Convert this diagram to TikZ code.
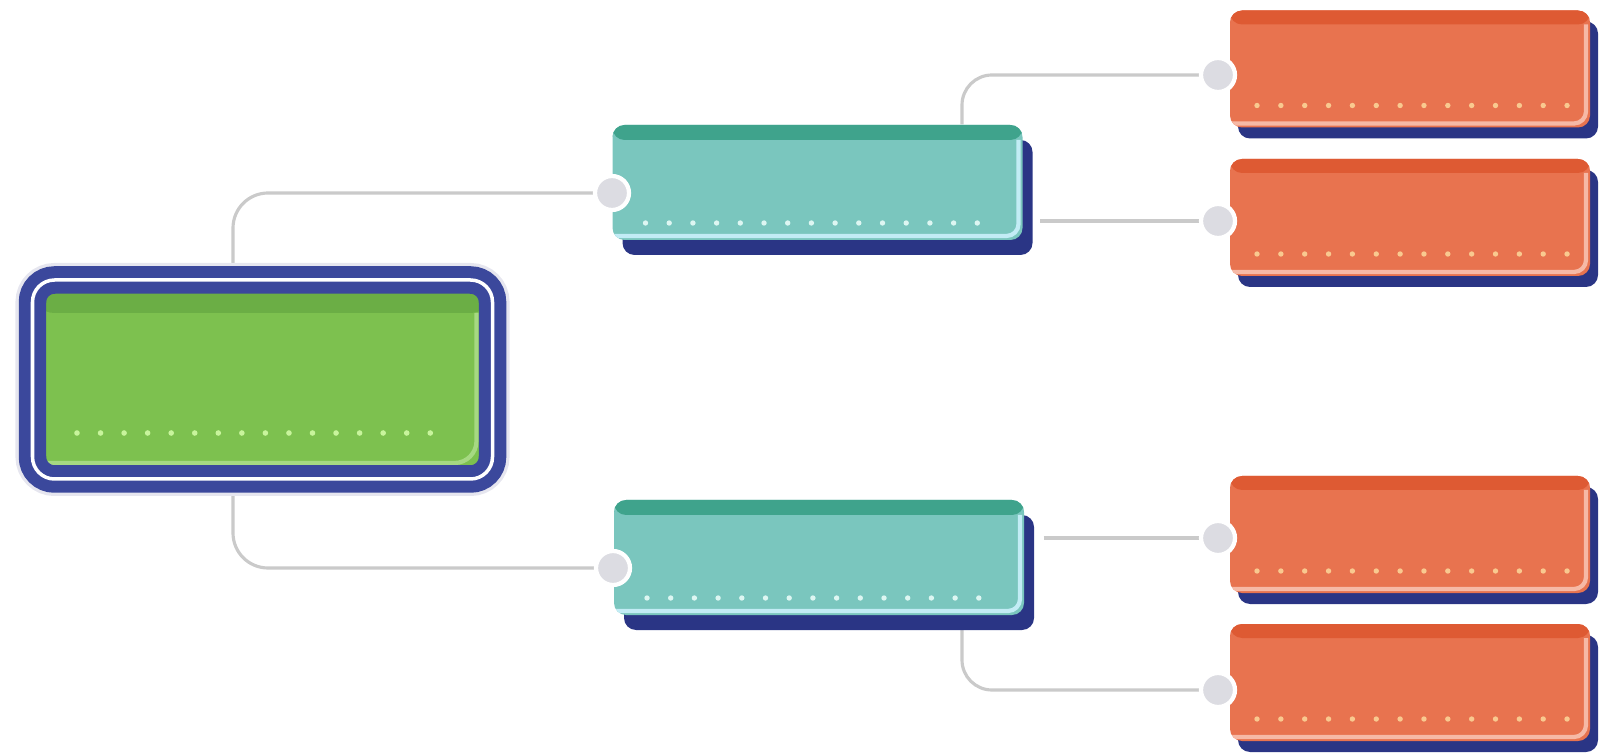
\documentclass[tikz,border=0pt]{standalone}
\usetikzlibrary{shadows,backgrounds}

\definecolor{navy}{HTML}{2A3585}
\definecolor{framenavy}{HTML}{3B489C}
\definecolor{halo}{HTML}{E6E6EF}
\definecolor{grfill}{HTML}{7DC14F}
\definecolor{grtop}{HTML}{6BAE45}
\definecolor{grlight}{HTML}{A6D982}
\definecolor{grdot}{HTML}{C8F49C}
\definecolor{tefill}{HTML}{7AC6BE}
\definecolor{tetop}{HTML}{3FA38C}
\definecolor{telight}{HTML}{C2ECF5}
\definecolor{tedot}{HTML}{DDF6F2}
\definecolor{orfill}{HTML}{E8734F}
\definecolor{ortop}{HTML}{DE5A33}
\definecolor{orlight}{HTML}{F6B9A6}
\definecolor{ordot}{HTML}{F9C98F}
\definecolor{linkgray}{HTML}{CACACA}
\definecolor{portgray}{HTML}{DCDCE2}

\tikzset{
	box/.style={rectangle, rounded corners=0.12cm, inner sep=0pt},
	mainbox/.style={box, rounded corners=0.22cm, fill=grfill, minimum width=4.6cm, minimum height=1.99cm,
		preaction={draw=halo, line width=0.34cm},
		draw=framenavy, double=white, line width=0.12cm, double distance=0.035cm,
		path picture={
			\fill[grtop] (path picture bounding box.north west) rectangle ([yshift=-0.33cm]path picture bounding box.north east);
			\draw[grlight, line width=1.2pt] ([shift={(-0.16,-0.33)}]path picture bounding box.north east) |- ([yshift=0.16cm]path picture bounding box.south west);
			\foreach \i in {0,...,15}
				\fill[grdot] ([shift={(0.445+\i*0.2355,0.46)}]path picture bounding box.south west) circle (0.028);
		}},
	tealbox/.style={box, fill=tefill, minimum width=4.1cm, minimum height=1.15cm,
		general shadow={fill=navy, shadow xshift=0.1cm, shadow yshift=-0.15cm},
		path picture={
			\fill[tetop] (path picture bounding box.north west) rectangle ([yshift=-0.15cm]path picture bounding box.north east);
			\draw[telight, line width=1.2pt] ([shift={(-0.04,-0.15)}]path picture bounding box.north east) |- ([yshift=0.04cm]path picture bounding box.south west);
			\foreach \i in {0,...,14}
				\fill[tedot] ([shift={(0.33+\i*0.237,0.17)}]path picture bounding box.south west) circle (0.027);
		}},
	orangebox/.style={box, fill=orfill, minimum width=3.6cm, minimum height=1.17cm,
		general shadow={fill=navy, shadow xshift=0.08cm, shadow yshift=-0.11cm},
		path picture={
			\fill[ortop] (path picture bounding box.north west) rectangle ([yshift=-0.14cm]path picture bounding box.north east);
			\draw[orlight, line width=1.2pt] ([shift={(-0.04,-0.14)}]path picture bounding box.north east) |- ([yshift=0.04cm]path picture bounding box.south west);
			\foreach \i in {0,...,13}
				\fill[ordot] ([shift={(0.27+\i*0.2385,0.22)}]path picture bounding box.south west) circle (0.027);
		}},
	port/.style={circle, inner sep=0pt, minimum size=0.34cm, fill=portgray, draw=white, line width=1.2pt},
	link/.style={draw=linkgray, line width=0.9pt, rounded corners=0.35cm}
}

\begin{document}
\begin{tikzpicture}
	\useasboundingbox (0,0) rectangle (16.05,-7.54);

	\node[mainbox] (main) at (2.625,-3.795) {};

	\node[tealbox] (t1) at (8.175,-1.825) {};
	\node[tealbox] (t2) at (8.19,-5.575) {};

	\node[orangebox] (o1) at (14.10,-0.69) {};
	\node[orangebox] (o2) at (14.10,-2.175) {};
	\node[orangebox] (o3) at (14.10,-5.345) {};
	\node[orangebox] (o4) at (14.10,-6.825) {};

	\node[port] (q1) at (6.12,-1.93) {};
	\node[port] (q2) at (6.13,-5.68) {};
	\node[port] (p1) at (12.18,-0.75) {};
	\node[port] (p2) at (12.18,-2.21) {};
	\node[port] (p3) at (12.18,-5.38) {};
	\node[port] (p4) at (12.18,-6.90) {};

	\begin{scope}[on background layer]
		\draw[link] ([xshift=-0.295cm]main.north) |- (q1);
		\draw[link] ([xshift=-0.295cm]main.south) |- (q2);
		\draw[link, rounded corners=0.3cm] ([xshift=1.445cm]t1.north) |- (p1);
		\draw[link, shorten <=0.17cm] (t1.east |- p2) -- (p2);
		\draw[link, shorten <=0.19cm] (t2.east |- p3) -- (p3);
		\draw[link, rounded corners=0.3cm] ([xshift=1.43cm]t2.south) |- (p4);
	\end{scope}
\end{tikzpicture}
\end{document}
